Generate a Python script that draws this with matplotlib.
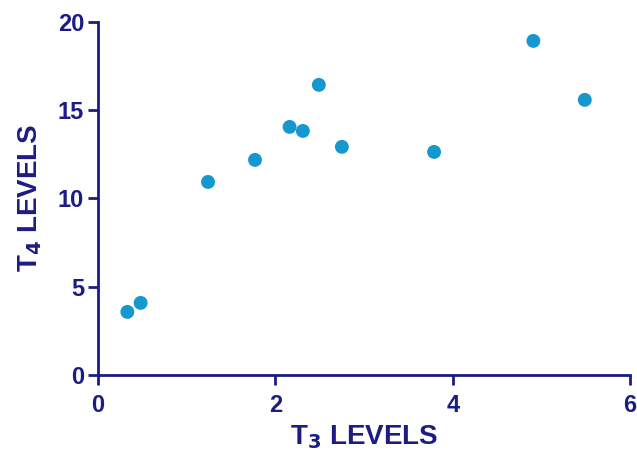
import matplotlib
matplotlib.use("Agg")
import matplotlib.pyplot as plt

# T3 / T4 levels
t3_levels = [0.33, 0.48, 1.24, 1.77, 2.16, 2.31, 2.49, 2.75, 3.79, 4.91, 5.49]
t4_levels = [3.57, 4.08, 10.93, 12.18, 14.05, 13.82, 16.43, 12.92, 12.63, 18.92, 15.58]

x_ticks = [0, 2, 4, 6]
y_ticks = [0, 5, 10, 15, 20]

navy = '#1c1c85'
dot_blue = '#1597cf'

plt.rcParams['font.family'] = ['Liberation Sans', 'DejaVu Sans']
plt.rcParams['mathtext.default'] = 'bf'

fig = plt.figure(figsize=(6.37, 4.55), dpi=100)
ax = fig.add_axes([0.154, 0.176, 0.835, 0.776])

ax.scatter(t3_levels, t4_levels, s=100, color=dot_blue, edgecolors='none', zorder=3, clip_on=False)

ax.set_xlim(0, 6)
ax.set_ylim(0, 20)
ax.set_xticks(x_ticks)
ax.set_yticks(y_ticks)

for side in ['top', 'right']:
    ax.spines[side].set_visible(False)
for side in ['left', 'bottom']:
    ax.spines[side].set_color(navy)
    ax.spines[side].set_linewidth(2)

ax.tick_params(colors=navy, width=2, length=7, labelsize=17, direction='out')
ax.tick_params(axis='x', pad=7)
ax.tick_params(axis='y', pad=3)
for lbl in ax.get_xticklabels() + ax.get_yticklabels():
    lbl.set_fontweight('bold')

ax.set_xlabel('T$_3$ LEVELS', fontsize=20, fontweight='bold', color=navy, labelpad=4)
ax.set_ylabel('T$_4$ LEVELS', fontsize=20, fontweight='bold', color=navy, labelpad=10)

fig.savefig('out.png', dpi=100)
